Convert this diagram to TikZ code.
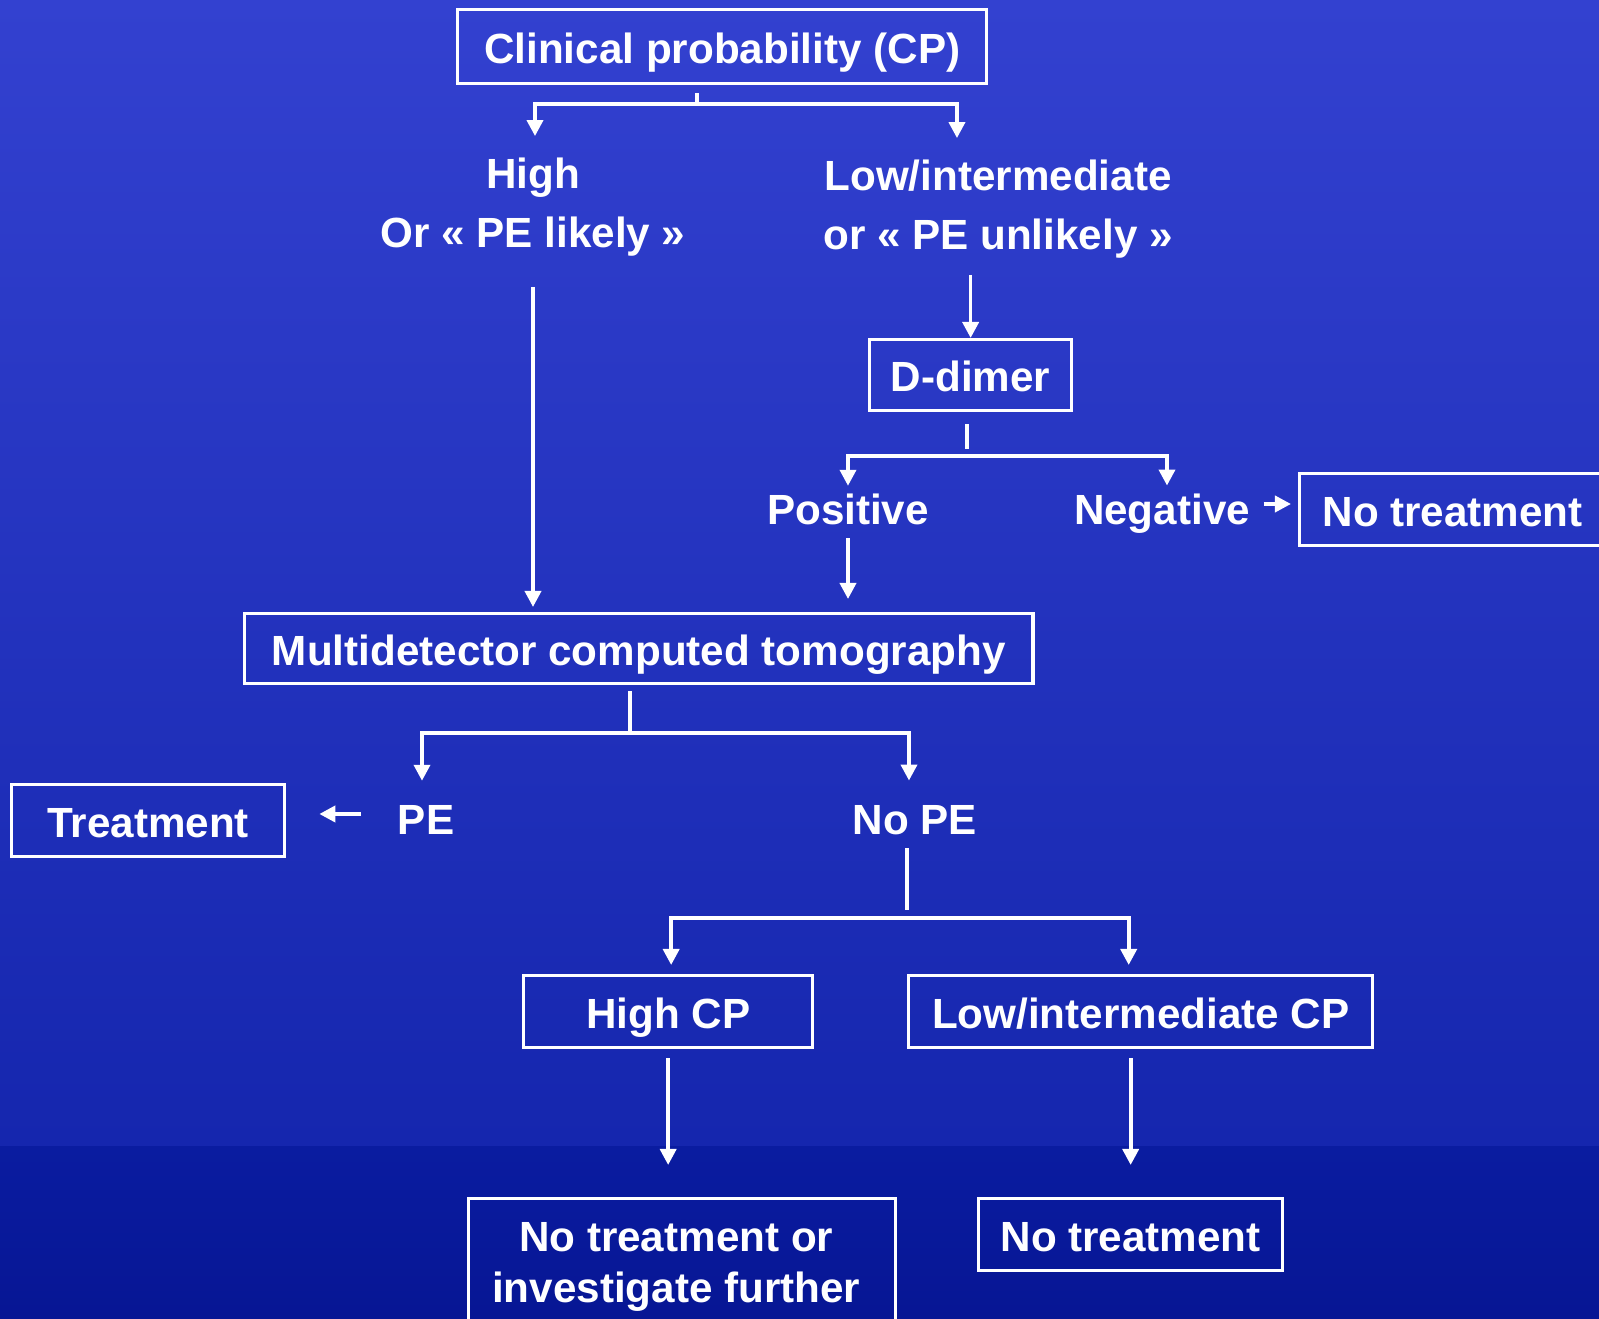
\documentclass[tikz,border=0pt]{standalone}
\usepackage{fontspec}
\setmainfont{Liberation Sans}
\usetikzlibrary{arrows.meta,calc,positioning}
\definecolor{slidetop}{HTML}{3341D0}
\definecolor{slidemid}{HTML}{1526AE}
\definecolor{slidelow}{HTML}{0A1CA0}
\definecolor{slidebot}{HTML}{071694}
\newcommand{\flowfont}{\fontsize{12}{14.5}\selectfont\bfseries}
\tikzset{
    tallbox/.style={draw=white,line width=0.9pt,text=white,font=\flowfont,align=center,inner sep=0pt,anchor=north west},
    box/.style={tallbox,text height=0.33cm,text depth=0pt},
    lbl/.style={text=white,font=\flowfont,align=center,inner sep=0pt},
    link/.style={draw=white,line width=0.9pt},
    flow/.style={link,line width=1.05pt,-{Triangle[length=0.16cm,width=0.16cm]}},
}
\begin{document}
\begin{tikzpicture}[x=0.01cm,y=-0.01cm]
    \useasboundingbox (0,0) rectangle (1599,1319);
    % slide background
    \fill[top color=slidetop,bottom color=slidemid] (0,0) rectangle (1599,1147);
    \fill[top color=slidelow,bottom color=slidebot] (0,1147) rectangle (1599,1319);

    % boxes and labels
    \node[box,minimum width=5.29cm,minimum height=0.74cm] (cp) at (456,8) {Clinical probability (CP)};
    \node[lbl,font=\fontsize{12}{16.8}\selectfont\bfseries] (high) at (533,207) {High\\Or « PE likely »};
    \node[lbl,font=\fontsize{12}{16.8}\selectfont\bfseries] (low) at (998,209) {Low/intermediate\\or « PE unlikely »};
    \node[box,minimum width=2.02cm,minimum height=0.71cm] (dd) at (868,338) {D-dimer};
    \node[lbl] (pos) at (848,509) {Positive};
    \node[lbl] (neg) at (1162,514) {Negative};
    \node[box,minimum width=3.06cm,minimum height=0.72cm] (notr1) at (1298,472) {No treatment};
    \node[box,minimum width=7.88cm,minimum height=0.70cm] (mdct) at (243,612) {Multidetector computed tomography};
    \node[box,minimum width=2.73cm,minimum height=0.72cm] (treat) at (10,783) {Treatment};
    \node[lbl] (pe) at (426,820) {PE};
    \node[lbl] (nope) at (915,820) {No PE};
    \node[box,minimum width=2.89cm,minimum height=0.72cm] (hcp) at (522,974) {High CP};
    \node[box,minimum width=4.64cm,minimum height=0.72cm] (lcp) at (907,974) {Low/intermediate CP};
    \node[tallbox,minimum width=4.27cm,minimum height=1.30cm] (further) at (467,1197) {};
    \node[lbl] (furthertext) at ($(further.center)+(-6,3)$) {No treatment or\\investigate further};
    \node[box,minimum width=3.04cm,minimum height=0.72cm] (notr2) at (977,1197) {No treatment};

    % connectors
    \coordinate (cpfork) at (697,104);
    \draw[link,shorten <=0.08cm] (cp.south -| cpfork) -- (cpfork);
    \draw[flow,shorten >=0.21cm] (cpfork) -| ([xshift=0.02cm]high.north);
    \draw[flow,shorten >=0.21cm] (cpfork) -| ([xshift=-0.41cm]low.north);
    \draw[flow,shorten <=0.30cm,shorten >=0.05cm] (high.south) -- (high.south |- mdct.north);
    \draw[flow,shorten <=0.16cm] (low.south -| dd.north) -- (dd.north);

    \coordinate (ddfork) at (967,456);
    \draw[link,shorten <=0.12cm,shorten >=0.07cm] (dd.south -| ddfork) -- (ddfork);
    \draw[flow,shorten >=0.07cm] (ddfork) -| (pos.north);
    \draw[flow,shorten >=0.08cm] (ddfork) -| ([xshift=0.05cm]neg.north);
    \draw[flow,shorten <=0.13cm,shorten >=0.07cm] ([yshift=0.10cm]neg.east) -- ([yshift=0.10cm]neg.east -| notr1.west);
    \draw[flow,shorten <=0.13cm,shorten >=0.13cm] (pos.south) -- (pos.south |- mdct.north);

    \coordinate (mdfork) at (630,733);
    \draw[link,shorten <=0.06cm] (mdct.south -| mdfork) -- (mdfork);
    \draw[flow,shorten >=0.24cm] (mdfork) -| ([xshift=-0.04cm]pe.north);
    \draw[flow,shorten >=0.24cm] (mdfork) -| ([xshift=-0.06cm]nope.north);
    \draw[flow,shorten <=0.36cm,shorten >=0.33cm] ([yshift=0.06cm]pe.west) -- ([yshift=0.06cm]pe.west -| treat.east);

    \coordinate (npfork) at (907,918);
    \draw[link,shorten <=0.13cm,shorten >=0.08cm] (nope.south -| npfork) -- (npfork);
    \draw[flow,shorten >=0.09cm] (npfork) -| ([xshift=0.03cm]hcp.north);
    \draw[flow,shorten >=0.09cm] (npfork) -| ([xshift=-0.12cm]lcp.north);
    \draw[flow,shorten <=0.09cm,shorten >=0.32cm] (hcp.south) -- (hcp.south |- further.north);
    \draw[flow,shorten <=0.09cm,shorten >=0.32cm] (notr2.north |- lcp.south) -- (notr2.north);
\end{tikzpicture}
\end{document}
